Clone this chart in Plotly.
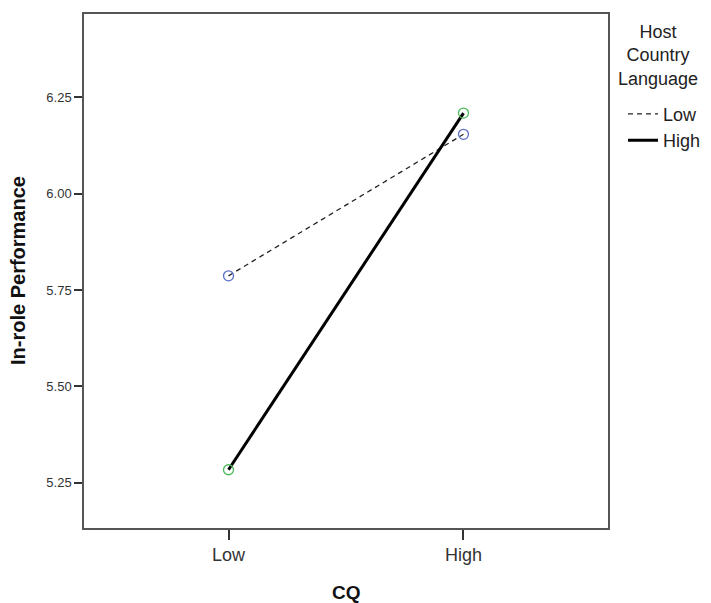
import plotly.graph_objects as go

cq = ["Low", "High"]
hcl_low = [5.787, 6.154]
hcl_high = [5.284, 6.209]
x_title = "CQ"
y_title = "In-role Performance"
legend_title = "Host<br>Country<br>Language"
y_ticks = [5.25, 5.50, 5.75, 6.00, 6.25]
y_tick_labels = ["5.25", "5.50", "5.75", "6.00", "6.25"]

xpos = list(range(len(cq)))

FONT = "Liberation Sans, Arial, sans-serif"

fig = go.Figure()
fig.add_trace(go.Scatter(x=xpos, y=hcl_low, mode="lines", name="Low",
                         line=dict(color="#222222", width=1.3, dash="5px,4px")))
fig.add_trace(go.Scatter(x=xpos, y=hcl_high, mode="lines", name="High",
                         line=dict(color="#000000", width=3)))
fig.add_trace(go.Scatter(x=xpos, y=hcl_low, mode="markers", showlegend=False,
                         marker=dict(symbol="circle-open", size=10, color="#5a6fc4",
                                     line=dict(width=1.3))))
fig.add_trace(go.Scatter(x=xpos, y=hcl_high, mode="markers", showlegend=False,
                         marker=dict(symbol="circle-open", size=10, color="#4cbb5c",
                                     line=dict(width=1.3))))

axis_common = dict(showline=True, mirror=True, linecolor="#555555", linewidth=1.5,
                   showgrid=False, zeroline=False, ticks="outside",
                   tickcolor="#333333", tickwidth=1.5, automargin=False)

# page body has an 8px margin, so the figure is sized to fit the window
fig.update_layout(
    width=703, height=595,
    margin=dict(l=76, r=103, t=6, b=75, autoexpand=False),
    paper_bgcolor="white", plot_bgcolor="white",
    font=dict(family=FONT, color="#222222"),
    xaxis=dict(range=[-0.615, 1.615], tickmode="array", tickvals=xpos, ticktext=cq,
               ticklen=10, tickfont=dict(size=18, color="#333333"),
               **axis_common),
    yaxis=dict(range=[5.133, 6.466], tickmode="array", tickvals=y_ticks, ticktext=y_tick_labels,
               ticklen=8, tickfont=dict(size=13, color="#333333"),
               **axis_common),
    legend=dict(x=1.0286, xanchor="left", y=0.841, yanchor="top",
                font=dict(size=18, color="#222222"),
                bgcolor="rgba(0,0,0,0)", tracegroupgap=0),
    annotations=[
        dict(text="<b>%s</b>" % y_title, xref="paper", yref="paper", x=0, y=0.5,
             xanchor="center", yanchor="middle", xshift=-66, textangle=-90,
             showarrow=False, font=dict(size=20, color="#111111", family=FONT)),
        dict(text="<b>%s</b>" % x_title, xref="paper", yref="paper", x=0.5, y=0,
             xanchor="center", yanchor="middle", yshift=-64,
             showarrow=False, font=dict(size=19, color="#111111", family=FONT)),
        dict(text=legend_title, xref="paper", yref="paper", x=1.0, y=1.0,
             xanchor="center", yanchor="top", xshift=50, yshift=-6,
             align="center", showarrow=False,
             font=dict(size=18, color="#222222", family=FONT)),
    ],
)

fig.write_html("out.html")
